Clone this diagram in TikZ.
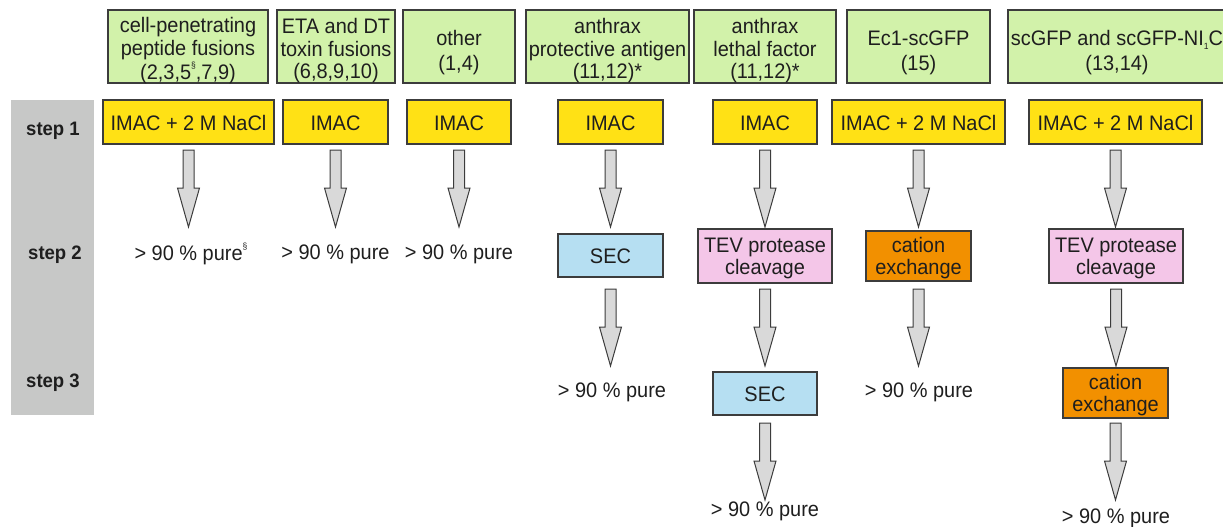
\documentclass[tikz,border=0pt]{standalone}
\usepackage{fontspec}
\setmainfont{Liberation Sans}[FakeStretch=0.95]
\usetikzlibrary{calc}
\definecolor{cgreen}{HTML}{D2F2AA}
\definecolor{cyellow}{HTML}{FFE115}
\definecolor{cblue}{HTML}{B6DFF2}
\definecolor{cpink}{HTML}{F4C6E8}
\definecolor{corange}{HTML}{F29000}
\definecolor{ccol}{HTML}{C7C8C7}
\definecolor{carrow}{HTML}{D9D9D9}
\definecolor{cborder}{HTML}{3C3C3C}
\definecolor{ctext}{HTML}{1E1E1E}
\newcommand\supS{\raisebox{0.5em}{\fontsize{9}{9}\selectfont §}}
\newcommand\subone{\raisebox{-0.2em}{\fontsize{9}{9}\selectfont 1}}
\newcommand\cellt[2][4pt]{\raisebox{-#1}[\height][\depth]{\begin{tabular}{@{}c@{}}#2\end{tabular}}}
\newcommand\barrow[2]{\draw[barrowst] let \p0=(#1.south |- #2) in
  (\x0-5.5pt,\y0) -- (\x0+5.5pt,\y0) -- (\x0+5.5pt,\y0-38pt) -- (\x0+11pt,\y0-38pt)
  -- (\x0,\y0-77pt) -- (\x0-11pt,\y0-38pt) -- (\x0-5.5pt,\y0-38pt) -- cycle;}
\begin{document}
\begin{tikzpicture}[x=1pt,y=-1pt,
  font=\fontsize{21}{22}\selectfont,
  box/.style={draw=cborder, line width=1.1pt, inner sep=0pt, text=ctext},
  hdr/.style={box, fill=cgreen, minimum height=73, font=\fontsize{21}{22.5}\selectfont},
  hdrtwo/.style={box, fill=cgreen, minimum height=73, font=\fontsize{21}{25}\selectfont},
  imac/.style={box, fill=cyellow, minimum height=44},
  sec/.style={box, fill=cblue, minimum height=43},
  tev/.style={box, fill=cpink, minimum height=54, minimum width=134},
  cat/.style={box, fill=corange, minimum height=50, minimum width=105},
  pure/.style={text=ctext, inner sep=0pt},
  steplbl/.style={font=\fontsize{19.5}{20}\selectfont\bfseries, text=ctext, inner sep=0pt},
  barrowst/.style={fill=carrow, draw=cborder, line width=1pt, line join=miter}
]
\useasboundingbox (0,0) rectangle (1223,527);

% step column
\node[fill=ccol, minimum width=83, minimum height=315, inner sep=0pt] (col) at (52.5,257.5) {};
\node[steplbl] (st1) at (53,131) {step 1};
\node[steplbl] (st2) at (55,255) {step 2};
\node[steplbl] (st3) at (53,383) {step 3};

% row coordinates for arrow starts
\coordinate (r1) at (0,150);
\coordinate (r2) at (0,289);
\coordinate (r3) at (0,423);

% headers
\node[hdr, minimum width=160] (g1) at (188,46.5) {\cellt[5pt]{cell-penetrating\\peptide fusions\\(2,3,5\supS,7,9)}};
\node[hdr, minimum width=118] (g2) at (336,46.5) {\cellt[5pt]{ETA and DT\\toxin fusions\\(6,8,9,10)}};
\node[hdrtwo, minimum width=112] (g3) at (459,46.5) {\cellt[6pt]{other\\(1,4)}};
\node[hdr, minimum width=163] (g4) at (607.5,46.5) {\cellt[5pt]{anthrax\\protective antigen\\(11,12)*}};
\node[hdr, minimum width=142] (g5) at (765,46.5) {\cellt[5pt]{anthrax\\lethal factor\\(11,12)*}};
\node[hdrtwo, minimum width=143] (g6) at (918.5,46.5) {\cellt[6pt]{Ec1-scGFP\\(15)}};
\node[hdrtwo, minimum width=218] (g7) at (1117,46.5) {\cellt[6pt]{scGFP and scGFP-NI\subone C\\(13,14)}};

% step 1
\node[imac, minimum width=171] (y1) at (188.5,122) {\cellt{IMAC + 2 M NaCl}};
\node[imac, minimum width=105] (y2) at (335.5,122) {\cellt{IMAC}};
\node[imac, minimum width=104] (y3) at (459,122) {\cellt{IMAC}};
\node[imac, minimum width=105] (y4) at (610.5,122) {\cellt{IMAC}};
\node[imac, minimum width=104] (y5) at (765,122) {\cellt{IMAC}};
\node[imac, minimum width=173] (y6) at (918.5,122) {\cellt{IMAC + 2 M NaCl}};
\node[imac, minimum width=173] (y7) at (1115.5,122) {\cellt{IMAC + 2 M NaCl}};

% step 2
\node[pure] (t1) at (191,254) {> 90 \% pure\supS};
\node[pure] (t2) at (335.5,254) {> 90 \% pure};
\node[pure] (t3) at (459,254) {> 90 \% pure};
\node[sec, minimum width=105] (s4) at (610.5,255.5) {\cellt{SEC}};
\node[tev] (s5) at (765,256) {\cellt[3pt]{TEV protease\\cleavage}};
\node[cat] (s6) at (918.5,256) {\cellt[3pt]{cation\\exchange}};
\node[tev] (s7) at (1116,256) {\cellt[3pt]{TEV protease\\cleavage}};

% step 3
\node[pure] (p4) at (612,392) {> 90 \% pure};
\node[sec, minimum width=104] (u5) at (765,393.5) {\cellt{SEC}};
\node[pure] (p6) at (919,392) {> 90 \% pure};
\node[cat] (u7) at (1115.5,393) {\cellt[3pt]{cation\\exchange}};

% final
\node[pure] (p5) at (765,511) {> 90 \% pure};
\node[pure] (p7) at (1116,518) {> 90 \% pure};

% arrows
\barrow{y1}{r1}
\barrow{y2}{r1}
\barrow{y3}{r1}
\barrow{y4}{r1}
\barrow{y5}{r1}
\barrow{y6}{r1}
\barrow{y7}{r1}
\barrow{s4}{r2}
\barrow{s5}{r2}
\barrow{s6}{r2}
\barrow{s7}{r2}
\barrow{u5}{r3}
\barrow{u7}{r3}
\end{tikzpicture}
\end{document}
